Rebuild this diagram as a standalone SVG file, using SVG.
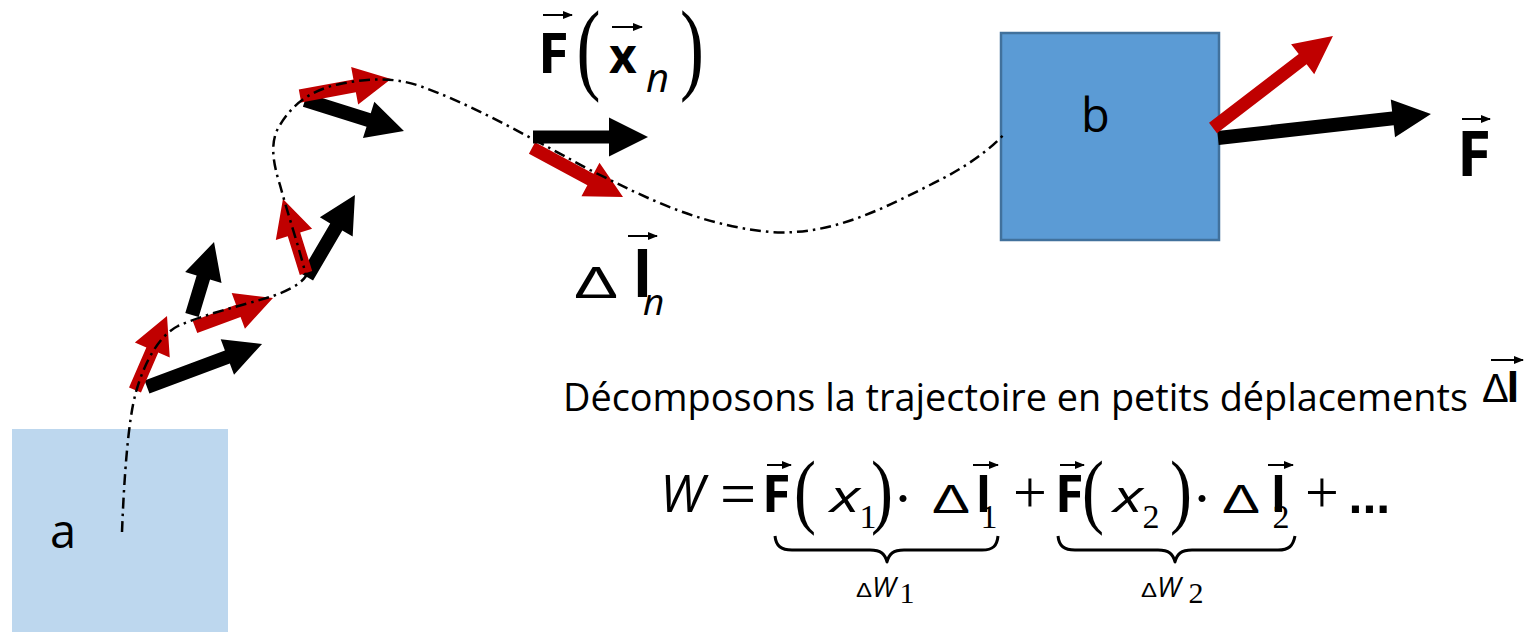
<svg xmlns="http://www.w3.org/2000/svg" width="1528" height="632" viewBox="0 0 1528 632">
<style>
.blk{fill:#000}
.red{fill:#C00000}
.traj{fill:none;stroke:#000;stroke-width:2.5;stroke-dasharray:11 5 2.5 5}
.sans{font-family:"Open Sans","Liberation Sans",sans-serif;fill:#000}
.bold{font-family:"Open Sans","Liberation Sans",sans-serif;font-weight:bold;fill:#000}
.ital{font-family:"Open Sans","Liberation Sans",sans-serif;font-style:italic;fill:#000}
.serif{font-family:"Liberation Serif","DejaVu Serif",serif;fill:#000}
.delta{font-family:"Liberation Sans","DejaVu Sans",sans-serif;fill:#000}
.vec{stroke:#000;stroke-width:2;fill:none}
.brace{fill:none;stroke:#000;stroke-width:3;stroke-linejoin:round}
</style>
<defs>
<marker id="vh" markerUnits="userSpaceOnUse" markerWidth="10" markerHeight="10" refX="9" refY="4" orient="auto">
<path d="M0,0 L10,4 L0,8 Z" fill="#000"/>
</marker>
</defs>

<g id="box-a">
<rect x="12" y="429" width="216" height="203" fill="#BDD7EE"/>
<text class="sans" x="50" y="548" font-size="47">a</text>
</g>

<g id="box-b">
<rect x="1001" y="33" width="218" height="207" fill="#5B9BD5" stroke="#41719C" stroke-width="2.5"/>
<text class="sans" x="1081" y="132" font-size="47">b</text>
</g>

<g id="vectors">
<path class="blk" transform="translate(147,387) rotate(-20.5)" d="M0,-7 H85.8 V-19 L122.8,0 L85.8,19 V7 H0 Z"/>
<path class="blk" transform="translate(192,315) rotate(-73.2)" d="M0,-7 H39.2 V-19 L76.2,0 L39.2,19 V7 H0 Z"/>
<path class="blk" transform="translate(307,277) rotate(-59.7)" d="M0,-7 H58 V-19 L95,0 L58,19 V7 H0 Z"/>
<path class="blk" transform="translate(305,100) rotate(17.4)" d="M0,-7 H66.7 V-19 L103.7,0 L66.7,19 V7 H0 Z"/>
<path class="red" transform="translate(135,390) rotate(-66.6)" d="M0,-6.5 H43.6 V-19 L80.6,0 L43.6,19 V6.5 H0 Z"/>
<path class="red" transform="translate(195,327) rotate(-20.4)" d="M0,-6.5 H46.2 V-19 L83.2,0 L46.2,19 V6.5 H0 Z"/>
<path class="red" transform="translate(306,273) rotate(-107.3)" d="M0,-6.5 H40.5 V-19 L77.5,0 L40.5,19 V6.5 H0 Z"/>
<path class="red" transform="translate(300,96) rotate(-10.6)" d="M0,-6.5 H55.6 V-19 L92.6,0 L55.6,19 V6.5 H0 Z"/>
<path class="red" transform="translate(532,148) rotate(28.3)" d="M0,-6.5 H66.4 V-19 L103.4,0 L66.4,19 V6.5 H0 Z"/>
<path class="blk" transform="translate(533,137)" d="M0,-6.5 H76 V-19.5 L115,0 L76,19.5 V6.5 H0 Z"/>
<path class="blk" transform="translate(1218,138) rotate(-6.4)" d="M0,-7 H176 V-19 L214.3,0 L176,19 V7 H0 Z"/>
<path class="red" transform="translate(1213,128) rotate(-37.5)" d="M0,-6.5 H113 V-19 L151.2,0 L113,19 V6.5 H0 Z"/>
</g>

<g id="connectors">
<path class="traj" d="M122,532 C124,480 128,420 136,392 C145,360 160,335 178,326 C205,314 240,306 270,297 C285,292 300,285 306,276 C300,250 288,215 280,185 C272,160 270,140 280,125 C292,105 310,90 340,84 C365,79 390,76 420,86 C470,104 520,132 590,170 C650,200 700,225 770,232 C830,236 880,210 930,185 C965,168 990,150 1005,133"/>
</g>

<g id="label-fxn">
<text class="bold" x="538" y="73" font-size="56">F</text>
<line class="vec" x1="543" y1="15" x2="572" y2="15" marker-end="url(#vh)"/>
<text class="serif" font-size="72" transform="translate(576.5,81) scale(1,1.417)">(</text>
<text class="bold" x="609" y="73" font-size="48">x</text>
<line class="vec" x1="612" y1="27" x2="642" y2="27" marker-end="url(#vh)"/>
<text class="ital" x="646" y="92" font-size="40">n</text>
<text class="serif" font-size="72" transform="translate(680,81) scale(1,1.417)">)</text>
</g>

<g id="label-dln">
<text class="delta" font-size="44" transform="translate(574,298) scale(1.5,1)">Δ</text>
<text class="bold" x="633" y="297" font-size="62">l</text>
<line class="vec" x1="628" y1="236" x2="657" y2="236" marker-end="url(#vh)"/>
<text class="ital" x="643" y="315" font-size="37">n</text>
</g>

<g id="label-F">
<text class="bold" x="1457" y="176" font-size="62">F</text>
<line class="vec" x1="1462" y1="119" x2="1490" y2="119" marker-end="url(#vh)"/>
</g>

<g id="caption">
<text class="sans" x="563" y="411" font-size="39" textLength="905" lengthAdjust="spacingAndGlyphs">Décomposons la trajectoire en petits déplacements</text>
<text class="delta" font-size="40" transform="translate(1482,402)">Δ</text>
<text class="bold" x="1506.5" y="402" font-size="42">l</text>
<line class="vec" x1="1491" y1="360" x2="1523" y2="360" marker-end="url(#vh)"/>
</g>

<g id="equation">
<text class="ital" x="660" y="512" font-size="52">W</text>
<text class="serif" x="738" y="515" font-size="64" text-anchor="middle">=</text>
<text class="bold" x="762" y="512" font-size="52">F</text>
<line class="vec" x1="767" y1="465" x2="791" y2="465" marker-end="url(#vh)"/>
<text class="serif" font-size="66" transform="translate(794,517.5) scale(1,1.25)">(</text>
<text class="ital" x="830" y="512" font-size="44" textLength="30" lengthAdjust="spacingAndGlyphs">x</text>
<text class="serif" x="868" y="528" font-size="34" text-anchor="middle">1</text>
<text class="serif" font-size="66" transform="translate(871,517.5) scale(1,1.25)">)</text>
<text class="serif" x="903" y="518" font-size="60" text-anchor="middle">·</text>
<text class="delta" font-size="40" transform="translate(932,513) scale(1.42,1)">Δ</text>
<text class="bold" x="976" y="512" font-size="49">l</text>
<line class="vec" x1="973" y1="465" x2="998" y2="465" marker-end="url(#vh)"/>
<text class="serif" x="989" y="528" font-size="34" text-anchor="middle">1</text>
<text class="serif" x="1030" y="512" font-size="60" text-anchor="middle">+</text>
<text class="bold" x="1055" y="512" font-size="52">F</text>
<line class="vec" x1="1060" y1="465" x2="1084" y2="465" marker-end="url(#vh)"/>
<text class="serif" font-size="66" transform="translate(1082,517.5) scale(1,1.25)">(</text>
<text class="ital" x="1113" y="512" font-size="44" textLength="30" lengthAdjust="spacingAndGlyphs">x</text>
<text class="serif" x="1151" y="528" font-size="34" text-anchor="middle">2</text>
<text class="serif" font-size="66" transform="translate(1170,517.5) scale(1,1.25)">)</text>
<text class="serif" x="1202" y="518" font-size="60" text-anchor="middle">·</text>
<text class="delta" font-size="40" transform="translate(1222,513) scale(1.42,1)">Δ</text>
<text class="bold" x="1271" y="512" font-size="49">l</text>
<line class="vec" x1="1268" y1="465" x2="1293" y2="465" marker-end="url(#vh)"/>
<text class="serif" x="1281" y="528" font-size="34" text-anchor="middle">2</text>
<text class="serif" x="1322" y="512" font-size="60" text-anchor="middle">+</text>
<text class="bold" x="1348.5" y="513" font-size="50" style="font-family:'Liberation Sans',sans-serif">...</text>
<path class="brace" d="M775,536 C776,546 781,550 792,550 L870,550 C881,550 885,554 887,562 C889,554 893,550 904,550 L982,550 C993,550 997,546 998,536"/>
<path class="brace" d="M1058,536 C1059,546 1064,550 1075,550 L1158,550 C1169,550 1173,554 1175,562 C1177,554 1181,550 1192,550 L1278,550 C1289,550 1293,546 1295,536"/>
<text class="delta" font-size="20" transform="translate(856,597) scale(1.2,1)">Δ</text>
<text class="ital" x="872" y="597" font-size="28">W</text>
<text class="serif" x="907" y="603" font-size="30" text-anchor="middle">1</text>
<text class="delta" font-size="20" transform="translate(1141,597) scale(1.2,1)">Δ</text>
<text class="ital" x="1157" y="597" font-size="28">W</text>
<text class="serif" x="1196" y="603" font-size="30" text-anchor="middle">2</text>
</g>
</svg>
